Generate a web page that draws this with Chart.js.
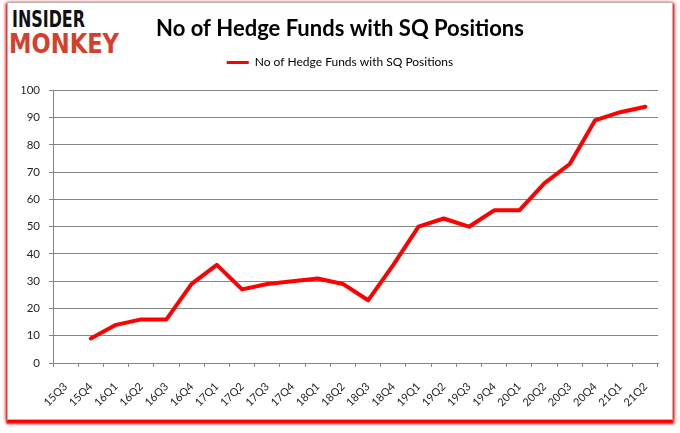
<!DOCTYPE html>
<html>
<head>
<meta charset="utf-8">
<script src="https://cdn.jsdelivr.net/npm/chart.js@4.4.1/dist/chart.umd.min.js"></script>
<style>
  html, body { margin: 0; padding: 0; background: #fff; }
  #wrap { position: relative; width: 680px; height: 433px; overflow: hidden; }
  #frame {
    position: absolute; left: 7px; top: 2px; width: 664px; height: 416px;
    border: 1px solid #b5b5b5; background: #fff;
    box-shadow: 0 3px 2px 1px #ff0000, 2px 0 3px rgba(255,0,0,0.45), -2px 0 3px rgba(255,0,0,0.45);
  }
  .logo { position: absolute; font-family: "DejaVu Sans", sans-serif; font-weight: bold; line-height: 1; white-space: nowrap; transform-origin: 0 0; }
  #l1 { left: 12px; top: 8px; color: #111; font-size: 23px; }
  #l2 { left: 9px; top: 30px; color: #d5402b; font-size: 27px; }
  canvas { position: absolute; left: 0; top: 0; }
</style>
</head>
<body>
<div id="wrap">
  <div id="frame"></div>
  <span class="logo" id="l1">INSIDER</span>
  <span class="logo" id="l2">MONKEY</span>
  <canvas id="c" width="680" height="433"></canvas>
</div>
<script>
const categories = ["15Q3","15Q4","16Q1","16Q2","16Q3","16Q4","17Q1","17Q2","17Q3","17Q4","18Q1","18Q2","18Q3","18Q4","19Q1","19Q2","19Q3","19Q4","20Q1","20Q2","20Q3","20Q4","21Q1","21Q2"];
const hedgeFunds = [null,9,14,16,16,29,36,27,29,30,31,29,23,36,50,53,50,56,56,66,73,89,92,94];
const seriesName = "No of Hedge Funds with SQ Positions";
const chartTitle = "No of Hedge Funds with SQ Positions";
const yTicks = [0,10,20,30,40,50,60,70,80,90,100];

// fit logo words to their widths in the reference
[["l1", 73], ["l2", 110]].forEach(([id, w]) => {
  const el = document.getElementById(id);
  const cur = el.getBoundingClientRect().width;
  if (cur > 0) el.style.transform = "scaleX(" + (w / cur) + ")";
});

const gridColor = "#868686";
const textColor = "#262626";

new Chart(document.getElementById("c"), {
  type: "line",
  data: {
    labels: categories,
    datasets: [{
      label: seriesName,
      data: hedgeFunds,
      borderColor: "#ff0000",
      backgroundColor: "#ff0000",
      borderWidth: 4,
      pointRadius: 0,
      pointHoverRadius: 0,
      tension: 0,
      borderCapStyle: "round",
      borderJoinStyle: "round",
      spanGaps: false
    }]
  },
  options: {
    responsive: false,
    animation: false,
    devicePixelRatio: 1,
    layout: { padding: { left: 22, right: 22, top: 0, bottom: 0 } },
    plugins: {
      title: {
        display: true,
        text: chartTitle,
        color: "#000",
        font: { family: "Lato", weight: "bold", size: 22, lineHeight: 1.2 },
        padding: { top: 16, bottom: 0 }
      },
      subtitle: {
        display: true,
        text: "",
        weight: 500,
        font: { size: 1, lineHeight: 1 },
        padding: { top: 0, bottom: 11 }
      },
      legend: {
        display: true,
        position: "top",
        labels: {
          boxWidth: 22,
          boxHeight: 3,
          padding: 14,
          color: "#000",
          font: { family: "Lato", size: 12 },
          generateLabels: (chart) => {
            const items = Chart.defaults.plugins.legend.labels.generateLabels(chart);
            items.forEach(it => { it.lineWidth = 0; it.fillStyle = "#ff0000"; it.strokeStyle = "#ff0000"; });
            return items;
          }
        }
      },
      tooltip: { enabled: false }
    },
    scales: {
      x: {
        type: "category",
        offset: true,
        afterFit: (s) => { s.height = 70; },
        border: { display: true, color: gridColor, width: 1 },
        grid: { display: true, offset: true, drawOnChartArea: false, drawTicks: true, tickLength: 4, color: gridColor },
        ticks: {
          autoSkip: false, minRotation: 45, maxRotation: 45, padding: 13,
          color: textColor, font: { family: "Lato", size: 11 }
        }
      },
      y: {
        min: 0, max: 100,
        afterFit: (s) => { s.width = 31; },
        afterBuildTicks: (s) => { s.ticks = yTicks.map(v => ({ value: v })); },
        border: { display: true, color: gridColor, width: 1 },
        grid: { color: gridColor, drawTicks: true, tickLength: 4, tickColor: gridColor },
        ticks: { stepSize: 10, padding: 9, color: textColor, font: { family: "Lato", size: 11.5 } }
      }
    }
  }
});
</script>
</body>
</html>
